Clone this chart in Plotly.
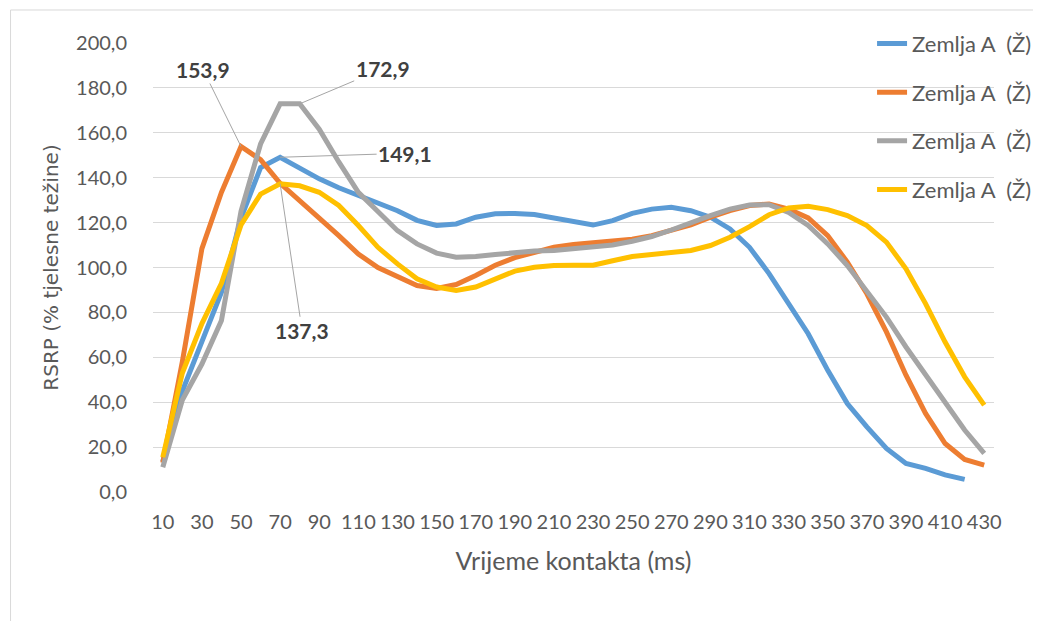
"""RSRP vs contact time: four 'Zemlja A (Ž)' curves with peak callouts."""

import plotly.graph_objects as go

contact_ms = [str(v) for v in range(10, 440, 10)]

blue_rsrp = [13.5, 45, 67, 89, 122, 144.5, 149.1, 144, 139.5, 135.5, 132, 129, 125.3,
             121, 118.7, 119.4, 122.4, 123.9, 124.1, 123.6, 122, 120.4, 118.9, 120.9,
             124.1, 126, 126.8, 125.3, 122.4, 117.2, 109, 97.3, 83.9, 70.5, 54.2, 39.4,
             29, 19.4, 12.7, 10.5, 7.6, 5.6]
orange_rsrp = [13, 58, 108.4, 133.5, 153.9, 148, 137.5, 130, 122, 114.2, 106, 100, 95.7,
               92, 90.7, 92.4, 96.4, 101, 104.4, 106.8, 109, 110.2, 111, 111.7, 112.6,
               114.2, 116.4, 119, 122.4, 125.3, 127.6, 128.3, 126, 122.1, 114.2, 102.4,
               88.3, 71.3, 52, 35, 21.6, 14.5, 12]
gray_rsrp = [11, 41, 57, 76.4, 125, 155, 172.9, 172.9, 161.6, 147, 133.5, 124.6, 116.4,
             110.5, 106.4, 104.6, 104.9, 105.8, 106.8, 107.3, 107.6, 108.3, 109, 110,
             111.7, 113.8, 116.7, 120.1, 123.1, 126, 127.8, 128, 124.5, 118.7, 110.5,
             100.9, 89.8, 77.9, 64.6, 52, 39.4, 27.6, 17.2]
yellow_rsrp = [15.5, 53, 75, 93, 119, 132.7, 137.3, 136.4, 133.5, 127.6, 118.7, 109, 101.6,
               95, 91.3, 89.8, 91.3, 95, 98.4, 100.1, 100.9, 101, 101, 103, 104.9, 105.8,
               106.8, 107.6, 109.8, 113.5, 118.2, 123.5, 126.5, 127.3, 125.8, 123.1, 118.7,
               111.3, 99.4, 83.9, 66.8, 51.3, 38.7]

series_name = "Zemlja A  (Ž)"
colors = ["#5B9BD5", "#ED7D31", "#A5A5A5", "#FFC000"]

# callouts: (category, value, text offset in px)
callouts = [
    ("50", 153.9, -38, -77),
    ("80", 172.9, 83, -35),
    ("70", 149.1, 125, -4),
    ("70", 137.3, 22, 147),
]

fig = go.Figure()
for i, ys in enumerate([blue_rsrp, orange_rsrp, gray_rsrp, yellow_rsrp]):
    fig.add_trace(go.Scatter(
        x=contact_ms[:len(ys)], y=ys,
        mode="lines",
        name=series_name,
        legendgroup=f"g{i}",
        line=dict(color=colors[i], width=5),
    ))

for cx, cy, ax, ay in callouts:
    label = f"{cy:.1f}".replace(".", ",")
    fig.add_annotation(
        x=contact_ms.index(cx), y=cy, text=f"<b>{label}</b>",
        showarrow=True, arrowhead=0, arrowwidth=1, arrowcolor="#A5A5A5",
        ax=ax, ay=ay, standoff=0,
        font=dict(family="Lato", size=21, color="#404040"),
    )

# light frame of the chart area
fig.add_shape(type="rect", xref="paper", yref="paper",
              x0=-0.1694, x1=1.1, y0=-0.5, y1=1.0735,
              line=dict(color="#D9D9D9", width=1), layer="below")

fig.update_layout(
    width=1041, height=621,
    margin=dict(l=145, r=52, t=35, b=137),
    paper_bgcolor="white", plot_bgcolor="white",
    separators=",.",
    font=dict(family="Lato", size=20, color="#595959"),
    showlegend=True,
    legend=dict(x=0.855, y=1.045, xanchor="left", yanchor="top",
                bgcolor="rgba(0,0,0,0)", tracegroupgap=17,
                font=dict(family="Lato", size=22, color="#595959")),
    xaxis=dict(
        type="category",
        range=[-0.5, len(contact_ms) - 0.5],
        tickvals=contact_ms[::2],
        tickangle=0,
        ticks="outside", ticklen=12, tickcolor="rgba(0,0,0,0)",
        showgrid=False,
        showline=False,
        tickfont=dict(size=20),
        title=dict(text="Vrijeme kontakta (ms)", standoff=20,
                   font=dict(size=25, color="#595959")),
    ),
    yaxis=dict(
        range=[0, 200],
        dtick=20,
        tickformat=".1f",
        gridcolor="#D9D9D9",
        gridwidth=1,
        zeroline=False,
        ticklabelstandoff=25,
        tickfont=dict(size=20),
        title=dict(text="RSRP (% tjelesne težine)", standoff=12,
                   font=dict(family="DejaVu Sans", size=20, color="#595959")),
    ),
)

fig.write_html("out.html")
